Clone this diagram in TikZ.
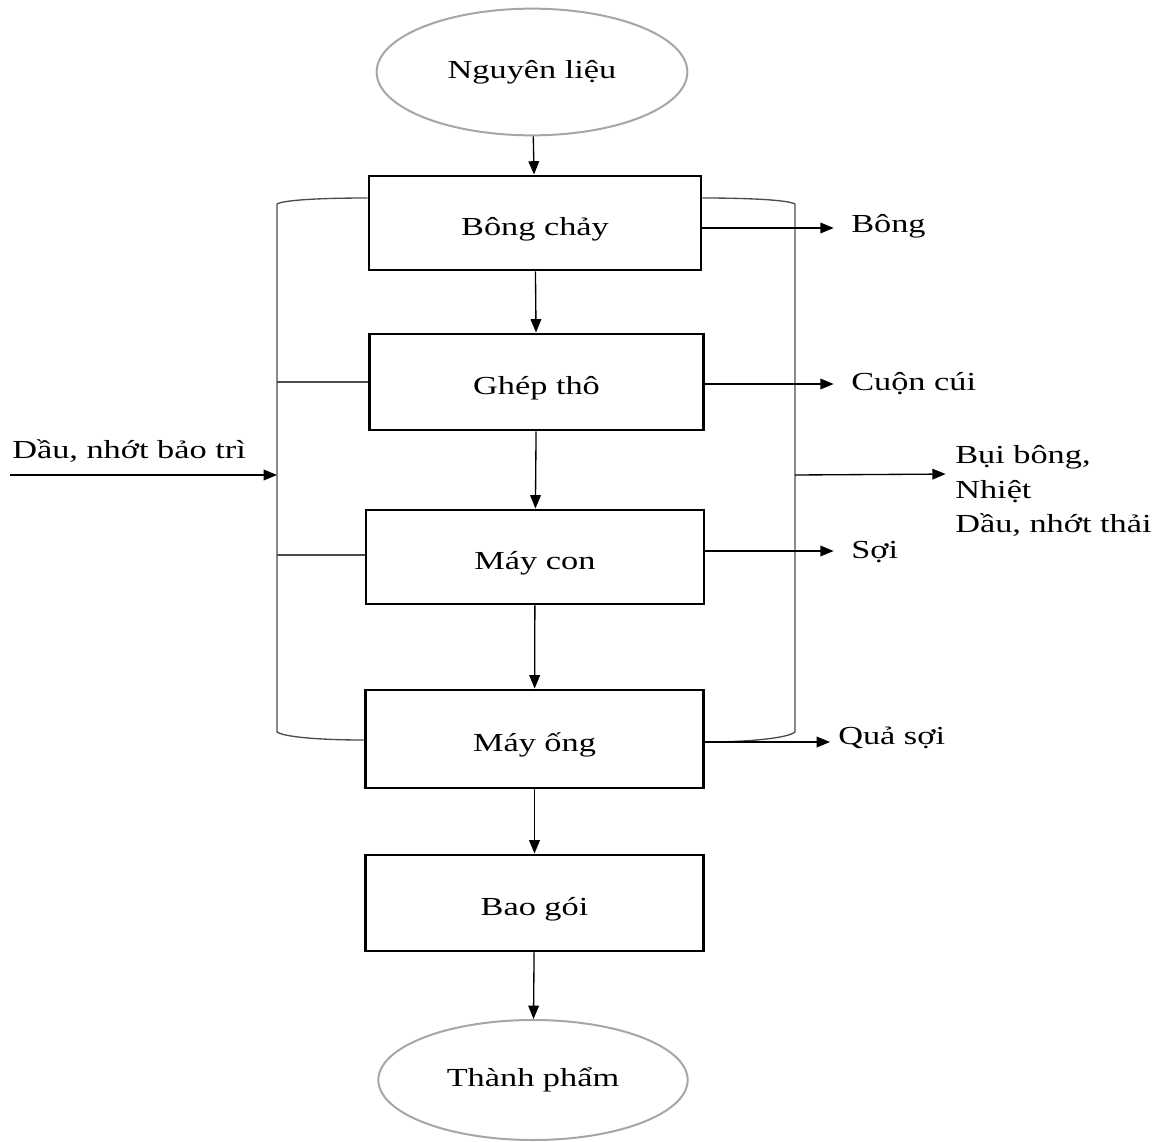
\documentclass[tikz,border=0pt]{standalone}
\usepackage{fontspec}
\setmainfont[FakeStretch=1.32]{Liberation Serif}
\usetikzlibrary{arrows.meta,shapes.geometric}
\begin{document}
\begin{tikzpicture}[x=0.75pt,y=-0.75pt,
  txt/.style={font=\fontsize{19.5}{26}\selectfont},
  box/.style={draw=black,line width=2.2pt,txt,text height=19pt,text depth=0pt},
  oval/.style={ellipse,draw=black!35,line width=1.5pt,txt},
  arr/.style={-{Triangle[length=10pt,width=8pt]},line width=1pt,draw=black},
  brk/.style={line width=1pt,draw=black!70},
  lbl/.style={txt,inner sep=0pt}]
\useasboundingbox (0,0) rectangle (1161,1142);
% main column
\node[oval,minimum width=233pt,minimum height=95pt] (nl) at (532,72) {Nguyên liệu};
\node[box,minimum width=249pt,minimum height=70.5pt] (bc) at (535,223) {Bông chảy};
\node[box,minimum width=251pt,minimum height=72pt] (gt) at (536.5,382) {Ghép thô};
\node[box,minimum width=253.5pt,minimum height=70.5pt] (mc) at (535,557) {Máy con};
\node[box,minimum width=254pt,minimum height=73.5pt] (mo) at (534.5,739) {Máy ống};
\node[box,minimum width=253pt,minimum height=72pt] (bg) at (534.5,903) {Bao gói};
\node[oval,minimum width=232pt,minimum height=90pt] (tp) at (533,1080) {Thành phẩm};
\draw[arr] (nl) -- (bc);
\draw[arr] (bc) -- (gt);
\draw[arr] (gt) -- (mc);
\draw[arr] (mc) -- (mo);
\draw[arr] (mo) -- (bg);
\draw[arr] (bg) -- (tp);
% left bracket
\coordinate (ltop) at (277,204);
\coordinate (lbot) at (277,732);
\coordinate (ljoin) at (277,475);
\draw[brk] (bc.west |- 0,198) .. controls (320,198) and (284,200) .. (ltop) -- (lbot) .. controls (284,737) and (320,740) .. (mo.west |- 0,740);
\draw[brk] (277,382) -- (gt.west |- 0,382);
\draw[brk] (277,555) -- (mc.west |- 0,555);
\coordinate (src) at (10,475);
\draw[arr] (src) -- (ljoin);
\node[lbl,anchor=base west] (dau) at (12,458) {Dầu, nhớt bảo trì};
% right bracket
\coordinate (rtop) at (795,204);
\coordinate (rbot) at (795,732);
\coordinate (rjoin) at (795,475);
\draw[brk] (bc.east |- 0,198) .. controls (750,198) and (788,200) .. (rtop) -- (rbot) .. controls (788,738) and (750,742) .. (mo.east |- 0,742);
% outputs
\node[lbl,anchor=west] (bong) at (851,226) {Bông};
\node[lbl,anchor=west] (cuon) at (851,384) {Cuộn cúi};
\node[lbl,anchor=west] (soi) at (851,552) {Sợi};
\node[lbl,anchor=west] (qua) at (838,738) {Quả sợi};
\node[lbl,anchor=north west,align=left] (bui) at (955,445) {Bụi bông,\\Nhiệt\\Dầu, nhớt thải};
\draw[arr,shorten >=13pt] (bc.east |- 0,228) -- (bong.west |- 0,228);
\draw[arr,shorten >=13pt] (gt.east |- 0,384) -- (cuon.west |- 0,384);
\draw[arr,shorten >=13pt] (mc.east |- 0,551) -- (soi.west |- 0,551);
\draw[arr,shorten >=6pt] (mo.east |- 0,742) -- (qua.west |- 0,742);
\draw[arr,shorten >=7pt] (rjoin) -- (bui.west |- 0,474);
\end{tikzpicture}
\end{document}
